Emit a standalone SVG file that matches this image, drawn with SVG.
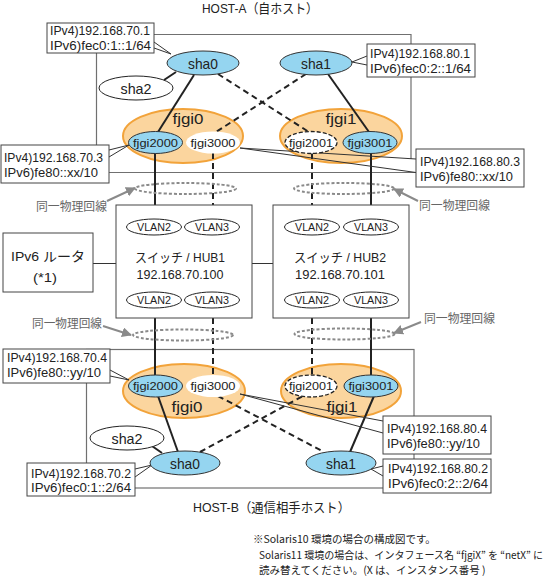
<svg xmlns="http://www.w3.org/2000/svg" width="556" height="577" viewBox="0 0 556 577">
<style>
text{font-family:"Liberation Sans","Noto Sans CJK JP",sans-serif;fill:#222}
.lbl{font-size:12px}
.host{fill:none;stroke:#707070;stroke-width:1.2}
.box{fill:#fff;stroke:#444;stroke-width:1}
.wedge{fill:none;stroke:#333;stroke-width:1}
.blue{fill:#95d5f0;stroke:#333;stroke-width:1}
.wht{fill:#fff;stroke:#222;stroke-width:1}
.orng{fill:#fbd59e;stroke:#f2a33a;stroke-width:2}
.solid{stroke:#222;stroke-width:2;fill:none}
.dash{stroke:#222;stroke-width:2;stroke-dasharray:6,4;fill:none}
.thin{stroke:#333;stroke-width:1;fill:none}
.phys{fill:none;stroke:#8a8a8a;stroke-width:2;stroke-dasharray:3,2}
.arr{stroke:#8a8a8a;stroke-width:2;fill:none;marker-end:url(#ah)}
.gtxt{font-size:12px;fill:#666}
.nm{font-size:15px}
.if{font-size:11px}
.vl{font-size:11px}
.note{font-family:"Noto Sans CJK JP",sans-serif;font-size:10.5px}
</style>
<defs>
<marker id="ah" viewBox="0 0 10 10" refX="9" refY="5" markerWidth="5" markerHeight="5" orient="auto" markerUnits="strokeWidth">
<path d="M0,0 L10,5 L0,10 z" fill="#8a8a8a"/>
</marker>
</defs>

<g id="hostA-frame">
<path class="host" d="M411,159 V34.5 H96.5 V172.5 H416"/>
<text x="202" y="13" font-size="13" textLength="116" lengthAdjust="spacingAndGlyphs">HOST-A（自ホスト）</text>
</g>
<g id="hostB-frame">
<rect class="host" x="86.5" y="349.5" width="327.5" height="138.5"/>
<text x="193" y="512" font-size="13" textLength="157" lengthAdjust="spacingAndGlyphs">HOST-B（通信相手ホスト）</text>
</g>

<g id="fjgi0-A"><ellipse class="orng" cx="183" cy="136" rx="60" ry="27"/>
<text x="188" y="124" font-size="14" text-anchor="middle" textLength="31" lengthAdjust="spacingAndGlyphs">fjgi0</text></g>
<g id="fjgi1-A"><ellipse class="orng" cx="341" cy="136" rx="61" ry="27"/>
<text x="341" y="124" font-size="14" text-anchor="middle" textLength="31" lengthAdjust="spacingAndGlyphs">fjgi1</text></g>
<g id="fjgi0-B"><ellipse class="orng" cx="184" cy="391" rx="61" ry="27"/>
<text x="187" y="412" font-size="14" text-anchor="middle" textLength="31" lengthAdjust="spacingAndGlyphs">fjgi0</text></g>
<g id="fjgi1-B"><ellipse class="orng" cx="341" cy="391" rx="60" ry="27"/>
<text x="342" y="412" font-size="14" text-anchor="middle" textLength="31" lengthAdjust="spacingAndGlyphs">fjgi1</text></g>

<g id="connectors">
<line class="solid" x1="164" y1="80" x2="176" y2="72"/>
<line class="solid" x1="194" y1="75" x2="158" y2="132"/>
<line class="dash" x1="218" y1="74" x2="309" y2="132"/>
<line class="dash" x1="306" y1="74" x2="216" y2="132"/>
<line class="solid" x1="328" y1="74" x2="369" y2="132"/>
<line class="solid" x1="155" y1="153" x2="155" y2="219"/>
<line class="dash" x1="213" y1="153" x2="213" y2="219"/>
<line class="dash" x1="312" y1="153" x2="312" y2="219"/>
<line class="solid" x1="371" y1="153" x2="371" y2="219"/>
<line class="solid" x1="155" y1="308" x2="155" y2="376"/>
<line class="dash" x1="213" y1="308" x2="213" y2="376"/>
<line class="dash" x1="312" y1="308" x2="312" y2="376"/>
<line class="solid" x1="371" y1="308" x2="371" y2="376"/>
<line class="solid" x1="158" y1="396" x2="178" y2="452"/>
<line class="dash" x1="200" y1="452" x2="303" y2="396"/>
<line class="dash" x1="218" y1="396" x2="324" y2="452"/>
<line class="solid" x1="374" y1="396" x2="350" y2="452"/>
<line class="solid" x1="152" y1="446" x2="162" y2="453"/>
<line class="thin" x1="93" y1="263.5" x2="116" y2="263.5"/>
<line class="thin" x1="252" y1="263.5" x2="273" y2="263.5"/>
<polyline class="wedge" points="154,42 171,54 154,48"/>
<polyline class="wedge" points="367,56 352,62 367,65"/>
<polyline class="wedge" points="109,150 129,145 109,157"/>
<polyline class="wedge" points="416,159 240,148 416,172.5"/>
<polyline class="wedge" points="110,370 129,380 110,376"/>
<polyline class="wedge" points="383,421 240,394 383,433"/>
<polyline class="wedge" points="135,469 152,465 135,477"/>
<polyline class="wedge" points="383,466 371,469 383,476"/>
</g>

<g id="sha0-A"><ellipse class="blue" cx="203" cy="63" rx="36" ry="12"/><text class="nm" x="203" y="68.5" text-anchor="middle" textLength="30" lengthAdjust="spacingAndGlyphs">sha0</text></g>
<g id="sha1-A"><ellipse class="blue" cx="316" cy="63" rx="36" ry="12"/><text class="nm" x="316" y="68.5" text-anchor="middle" textLength="30" lengthAdjust="spacingAndGlyphs">sha1</text></g>
<g id="sha2-A"><ellipse class="wht" cx="136" cy="88" rx="37" ry="12"/><text class="nm" x="136" y="93.5" text-anchor="middle" textLength="31" lengthAdjust="spacingAndGlyphs">sha2</text></g>
<g id="fjgi2000-A"><ellipse class="blue" cx="155.5" cy="142.5" rx="27" ry="11"/><text class="if" x="155.5" y="146.5" text-anchor="middle" textLength="45" lengthAdjust="spacingAndGlyphs">fjgi2000</text></g>
<g id="fjgi3000-A"><ellipse cx="213" cy="142.5" rx="27" ry="11" fill="#fff"/><text class="if" x="213" y="146.5" text-anchor="middle" textLength="45" lengthAdjust="spacingAndGlyphs">fjgi3000</text></g>
<g id="fjgi2001-A"><ellipse cx="311" cy="142.5" rx="26" ry="11" fill="#fff" stroke="#222" stroke-width="1.3" stroke-dasharray="4,2"/><text class="if" x="311" y="146.5" text-anchor="middle" textLength="44" lengthAdjust="spacingAndGlyphs">fjgi2001</text></g>
<g id="fjgi3001-A"><ellipse class="blue" cx="370" cy="142.5" rx="27" ry="11"/><text class="if" x="370" y="146.5" text-anchor="middle" textLength="45" lengthAdjust="spacingAndGlyphs">fjgi3001</text></g>

<g id="fjgi2000-B"><ellipse class="blue" cx="155.5" cy="386" rx="27" ry="11"/><text class="if" x="155.5" y="390" text-anchor="middle" textLength="45" lengthAdjust="spacingAndGlyphs">fjgi2000</text></g>
<g id="fjgi3000-B"><ellipse cx="213" cy="386" rx="27" ry="11" fill="#fff"/><text class="if" x="213" y="390" text-anchor="middle" textLength="45" lengthAdjust="spacingAndGlyphs">fjgi3000</text></g>
<g id="fjgi2001-B"><ellipse cx="311" cy="386" rx="26" ry="11" fill="#fff" stroke="#222" stroke-width="1.3" stroke-dasharray="4,2"/><text class="if" x="311" y="390" text-anchor="middle" textLength="44" lengthAdjust="spacingAndGlyphs">fjgi2001</text></g>
<g id="fjgi3001-B"><ellipse class="blue" cx="371" cy="386" rx="27" ry="11"/><text class="if" x="371" y="390" text-anchor="middle" textLength="45" lengthAdjust="spacingAndGlyphs">fjgi3001</text></g>
<g id="sha0-B"><ellipse class="blue" cx="185" cy="463" rx="35" ry="12"/><text class="nm" x="185" y="468.5" text-anchor="middle" textLength="30" lengthAdjust="spacingAndGlyphs">sha0</text></g>
<g id="sha1-B"><ellipse class="blue" cx="341" cy="463" rx="35" ry="12"/><text class="nm" x="341" y="468.5" text-anchor="middle" textLength="30" lengthAdjust="spacingAndGlyphs">sha1</text></g>
<g id="sha2-B"><ellipse class="wht" cx="127" cy="438" rx="37" ry="12"/><text class="nm" x="127" y="443.5" text-anchor="middle" textLength="31" lengthAdjust="spacingAndGlyphs">sha2</text></g>

<g id="hub1">
<rect class="box" x="116" y="205" width="136" height="113"/>
<ellipse class="wht" cx="154" cy="227" rx="27.5" ry="8"/><text class="vl" x="154" y="231" text-anchor="middle" textLength="34" lengthAdjust="spacingAndGlyphs">VLAN2</text>
<ellipse class="wht" cx="212" cy="227" rx="27.5" ry="8"/><text class="vl" x="212" y="231" text-anchor="middle" textLength="34" lengthAdjust="spacingAndGlyphs">VLAN3</text>
<text x="180" y="262" font-size="13" text-anchor="middle" textLength="90" lengthAdjust="spacingAndGlyphs">スイッチ / HUB1</text>
<text x="180" y="279" font-size="13" text-anchor="middle" textLength="87" lengthAdjust="spacingAndGlyphs">192.168.70.100</text>
<ellipse class="wht" cx="154" cy="300" rx="27.5" ry="8"/><text class="vl" x="154" y="304" text-anchor="middle" textLength="34" lengthAdjust="spacingAndGlyphs">VLAN2</text>
<ellipse class="wht" cx="212" cy="300" rx="27.5" ry="8"/><text class="vl" x="212" y="304" text-anchor="middle" textLength="34" lengthAdjust="spacingAndGlyphs">VLAN3</text>
</g>
<g id="hub2">
<rect class="box" x="273" y="205" width="136" height="113"/>
<ellipse class="wht" cx="312" cy="227" rx="27.5" ry="8"/><text class="vl" x="312" y="231" text-anchor="middle" textLength="34" lengthAdjust="spacingAndGlyphs">VLAN2</text>
<ellipse class="wht" cx="371" cy="227" rx="27.5" ry="8"/><text class="vl" x="371" y="231" text-anchor="middle" textLength="34" lengthAdjust="spacingAndGlyphs">VLAN3</text>
<text x="340" y="262" font-size="13" text-anchor="middle" textLength="92" lengthAdjust="spacingAndGlyphs">スイッチ / HUB2</text>
<text x="340" y="279" font-size="13" text-anchor="middle" textLength="90" lengthAdjust="spacingAndGlyphs">192.168.70.101</text>
<ellipse class="wht" cx="312" cy="300" rx="27.5" ry="8"/><text class="vl" x="312" y="304" text-anchor="middle" textLength="34" lengthAdjust="spacingAndGlyphs">VLAN2</text>
<ellipse class="wht" cx="371" cy="300" rx="27.5" ry="8"/><text class="vl" x="371" y="304" text-anchor="middle" textLength="34" lengthAdjust="spacingAndGlyphs">VLAN3</text>
</g>
<g id="router">
<rect class="box" x="3" y="233" width="90" height="59"/>
<text x="48" y="261" font-size="13" text-anchor="middle" textLength="74" lengthAdjust="spacingAndGlyphs">IPv6 ルータ</text>
<text x="45" y="282" font-size="13" text-anchor="middle" textLength="24" lengthAdjust="spacingAndGlyphs">(*1)</text>
</g>

<g id="same-line">
<ellipse class="phys" cx="185.5" cy="188.5" rx="50.5" ry="5.5"/>
<ellipse class="phys" cx="344" cy="188.5" rx="50" ry="5.5"/>
<ellipse class="phys" cx="183" cy="335" rx="50" ry="5.5"/>
<ellipse class="phys" cx="344.5" cy="334" rx="50" ry="5.5"/>
<line class="arr" x1="107" y1="201" x2="135" y2="188"/>
<line class="arr" x1="418" y1="201" x2="394" y2="189"/>
<line class="arr" x1="103" y1="326" x2="131" y2="335"/>
<line class="arr" x1="421" y1="322" x2="394" y2="333"/>
<text class="gtxt" x="36" y="211" textLength="71" lengthAdjust="spacingAndGlyphs">同一物理回線</text>
<text class="gtxt" x="419" y="210" textLength="71" lengthAdjust="spacingAndGlyphs">同一物理回線</text>
<text class="gtxt" x="32" y="328" textLength="70" lengthAdjust="spacingAndGlyphs">同一物理回線</text>
<text class="gtxt" x="424" y="323" textLength="71" lengthAdjust="spacingAndGlyphs">同一物理回線</text>
</g>

<g id="addr-sha0-A"><rect class="box" x="47" y="23" width="107" height="30"/>
<text class="lbl" x="50" y="35" textLength="100" lengthAdjust="spacingAndGlyphs">IPv4)192.168.70.1</text>
<text class="lbl" x="50" y="49.5" textLength="101" lengthAdjust="spacingAndGlyphs">IPv6)fec0:1::1/64</text></g>
<g id="addr-sha1-A"><rect class="box" x="367" y="44" width="108" height="33"/>
<text class="lbl" x="370" y="57.5" textLength="100" lengthAdjust="spacingAndGlyphs">IPv4)192.168.80.1</text>
<text class="lbl" x="370" y="73" textLength="101" lengthAdjust="spacingAndGlyphs">IPv6)fec0:2::1/64</text></g>
<g id="addr-fjgi0-A"><rect class="box" x="1" y="145" width="108" height="38"/>
<text class="lbl" x="4" y="162" textLength="99" lengthAdjust="spacingAndGlyphs">IPv4)192.168.70.3</text>
<text class="lbl" x="4" y="177" textLength="94" lengthAdjust="spacingAndGlyphs">IPv6)fe80::xx/10</text></g>
<g id="addr-fjgi1-A"><rect class="box" x="416" y="149" width="108" height="38"/>
<text class="lbl" x="420" y="166" textLength="100" lengthAdjust="spacingAndGlyphs">IPv4)192.168.80.3</text>
<text class="lbl" x="420" y="180.5" textLength="93" lengthAdjust="spacingAndGlyphs">IPv6)fe80::xx/10</text></g>
<g id="addr-fjgi0-B"><rect class="box" x="3" y="349" width="107" height="34"/>
<text class="lbl" x="7" y="361.5" textLength="100" lengthAdjust="spacingAndGlyphs">IPv4)192.168.70.4</text>
<text class="lbl" x="7" y="377" textLength="94" lengthAdjust="spacingAndGlyphs">IPv6)fe80::yy/10</text></g>
<g id="addr-sha0-B"><rect class="box" x="27" y="463" width="108" height="33"/>
<text class="lbl" x="31" y="477.5" textLength="100" lengthAdjust="spacingAndGlyphs">IPv4)192.168.70.2</text>
<text class="lbl" x="31" y="491.5" textLength="100" lengthAdjust="spacingAndGlyphs">IPv6)fec0:1::2/64</text></g>
<g id="addr-fjgi1-B"><rect class="box" x="383" y="416" width="108" height="38"/>
<text class="lbl" x="387" y="432.5" textLength="100" lengthAdjust="spacingAndGlyphs">IPv4)192.168.80.4</text>
<text class="lbl" x="387" y="447.5" textLength="93" lengthAdjust="spacingAndGlyphs">IPv6)fe80::yy/10</text></g>
<g id="addr-sha1-B"><rect class="box" x="383" y="459" width="108" height="34"/>
<text class="lbl" x="388" y="472.5" textLength="100" lengthAdjust="spacingAndGlyphs">IPv4)192.168.80.2</text>
<text class="lbl" x="388" y="488" textLength="100" lengthAdjust="spacingAndGlyphs">IPv6)fec0:2::2/64</text></g>

<g id="note">
<text class="note" x="253" y="543">※Solaris10 環境の場合の構成図です。</text>
<text class="note" x="259" y="558.5" font-size="10" textLength="284" lengthAdjust="spacingAndGlyphs">Solaris11 環境の場合は、インタフェース名 “fjgiX” を “netX” に</text>
<text class="note" x="259" y="574">読み替えてください。(X は、インスタンス番号 )</text>
</g>
</svg>
